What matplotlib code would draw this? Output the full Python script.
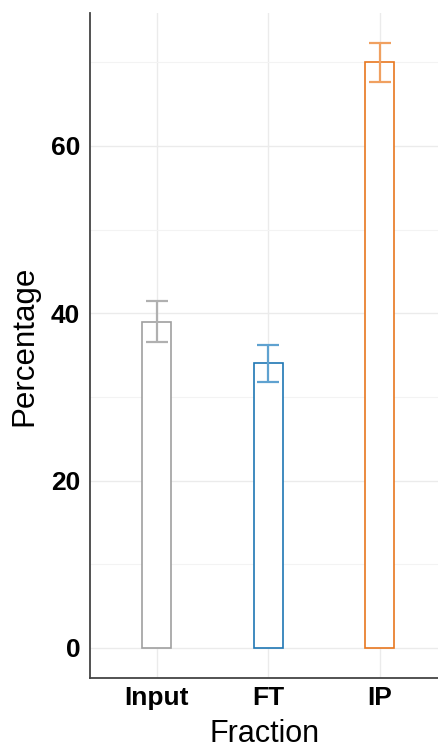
import matplotlib
matplotlib.use("Agg")
import matplotlib.pyplot as plt
import numpy as np

categories = ["Input", "FT", "IP"]
values = [39.0, 34.0, 70.0]
errors = [2.45, 2.2, 2.35]
edge_colors = ["#a0a0a0", "#1f77b4", "#e8771f"]
err_colors = ["#b0b0b0", "#5fa2d0", "#f0a060"]
yticks = [0, 20, 40, 60]

plt.rcParams['font.family'] = ['Liberation Sans', 'DejaVu Sans']

fig = plt.figure(figsize=(4.39, 7.48), dpi=100)
ax = fig.add_axes([90/439, 70/748, 1 - 90/439, (678-13)/748])

x = np.arange(1, len(categories) + 1)
ax.bar(x, values, width=0.26, facecolor='white', edgecolor=edge_colors, linewidth=1.2, zorder=3)
for xi, v, e, c in zip(x, values, errors, err_colors):
    ax.errorbar(xi, v, yerr=e, color=c, capsize=8, elinewidth=1.6, capthick=1.6, zorder=4)

ax.set_xlim(0.4, 3.53)
ax.set_ylim(-3.6, 75.9)
ax.set_xticks(x)
ax.set_xticklabels(categories, fontsize=19, fontweight='bold')
ax.set_yticks(yticks)
ax.set_yticklabels([str(t) for t in yticks], fontsize=19, fontweight='bold')
ax.set_yticks([10, 30, 50, 70], minor=True)
ax.grid(True, which='major', color='#ebebeb', linewidth=1.0, zorder=0)
ax.grid(True, which='minor', axis='y', color='#f3f3f3', linewidth=0.8, zorder=0)
ax.set_axisbelow(True)
ax.tick_params(axis='x', which='both', length=0, pad=6)
ax.tick_params(axis='y', which='both', length=0, pad=7)
ax.set_xlabel("Fraction", fontsize=22, labelpad=6.5)
ax.set_ylabel("Percentage", fontsize=22.5, labelpad=8)
for s in ['top', 'right']:
    ax.spines[s].set_visible(False)
for s in ['left', 'bottom']:
    ax.spines[s].set_color('#444444')
    ax.spines[s].set_linewidth(1.3)

fig.savefig("out.png", dpi=100)
